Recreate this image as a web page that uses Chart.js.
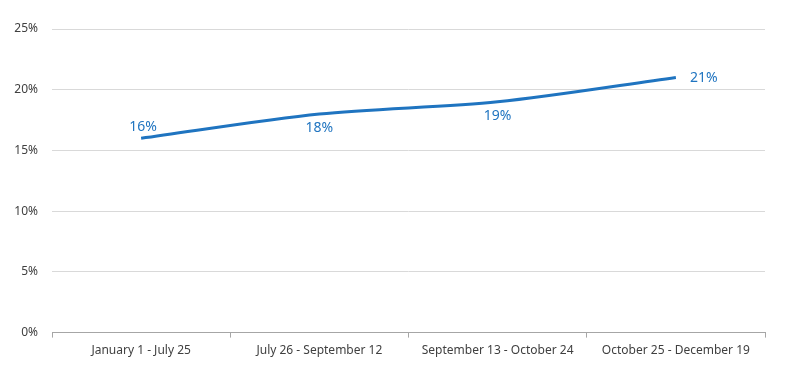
<!DOCTYPE html>
<html>
<head>
<meta charset="utf-8">
<script src="https://cdn.jsdelivr.net/npm/chart.js@4/dist/chart.umd.min.js"></script>
<style>
    html, body { margin: 0; padding: 0; background: #fff; }
    #wrap { width: 790px; height: 370px; position: relative; }
</style>
</head>
<body>
<div id="wrap"><canvas id="lineChart"></canvas></div>
<script>
// données du graphique
const categories = ['January 1 - July 25', 'July 26 - September 12', 'September 13 - October 24', 'October 25 - December 19'];
const shareValues = [16, 18, 19, 21];
const yTicks = [0, 5, 10, 15, 20, 25];

const lineColor = '#1f74c0';

// étiquettes de données, placées comme dans Excel
const labelOffsets = [
    { dx: 2, dy: -11 },
    { dx: 0, dy: 14 },
    { dx: 0, dy: 14 },
    { dx: 28, dy: 0 }
];

const dataLabelsPlugin = {
    id: 'dataLabels',
    afterDatasetsDraw(chart) {
        const ctx = chart.ctx;
        const meta = chart.getDatasetMeta(0);
        ctx.save();
        ctx.font = '14px "Noto Sans", sans-serif';
        ctx.fillStyle = lineColor;
        ctx.textAlign = 'center';
        ctx.textBaseline = 'middle';
        meta.data.forEach((pt, i) => {
            const off = labelOffsets[i];
            ctx.fillText(shareValues[i] + '%', pt.x + off.dx, pt.y + off.dy);
        });
        ctx.restore();
    }
};

new Chart(document.getElementById('lineChart'), {
    type: 'line',
    data: {
        labels: categories,
        datasets: [{
            data: shareValues,
            borderColor: lineColor,
            borderWidth: 3,
            pointRadius: 0,
            tension: 0.3,
            fill: false
        }]
    },
    options: {
        responsive: true,
        maintainAspectRatio: false,
        animation: false,
        layout: { padding: { top: 29, right: 25, bottom: 6, left: 0 } },
        plugins: {
            legend: { display: false },
            tooltip: { enabled: false }
        },
        scales: {
            x: {
                offset: true,
                grid: {
                    offset: true,
                    drawOnChartArea: false,
                    drawTicks: true,
                    tickLength: 5,
                    color: '#a6a6a6'
                },
                border: { display: true, color: '#a6a6a6', width: 1 },
                ticks: {
                    color: '#404040',
                    font: { family: 'Noto Sans', size: 12 },
                    padding: 6,
                    maxRotation: 0,
                    autoSkip: false
                }
            },
            y: {
                min: 0,
                max: 25,
                afterFit(scale) { scale.width = 52; },
                afterBuildTicks(scale) { scale.ticks = yTicks.map(v => ({ value: v })); },
                grid: { color: '#d9d9d9', drawTicks: false },
                border: { display: false },
                ticks: {
                    color: '#404040',
                    font: { family: 'Noto Sans', size: 12 },
                    padding: 14,
                    callback: (v) => v + '%'
                }
            }
        }
    },
    plugins: [dataLabelsPlugin]
});
</script>
</body>
</html>
